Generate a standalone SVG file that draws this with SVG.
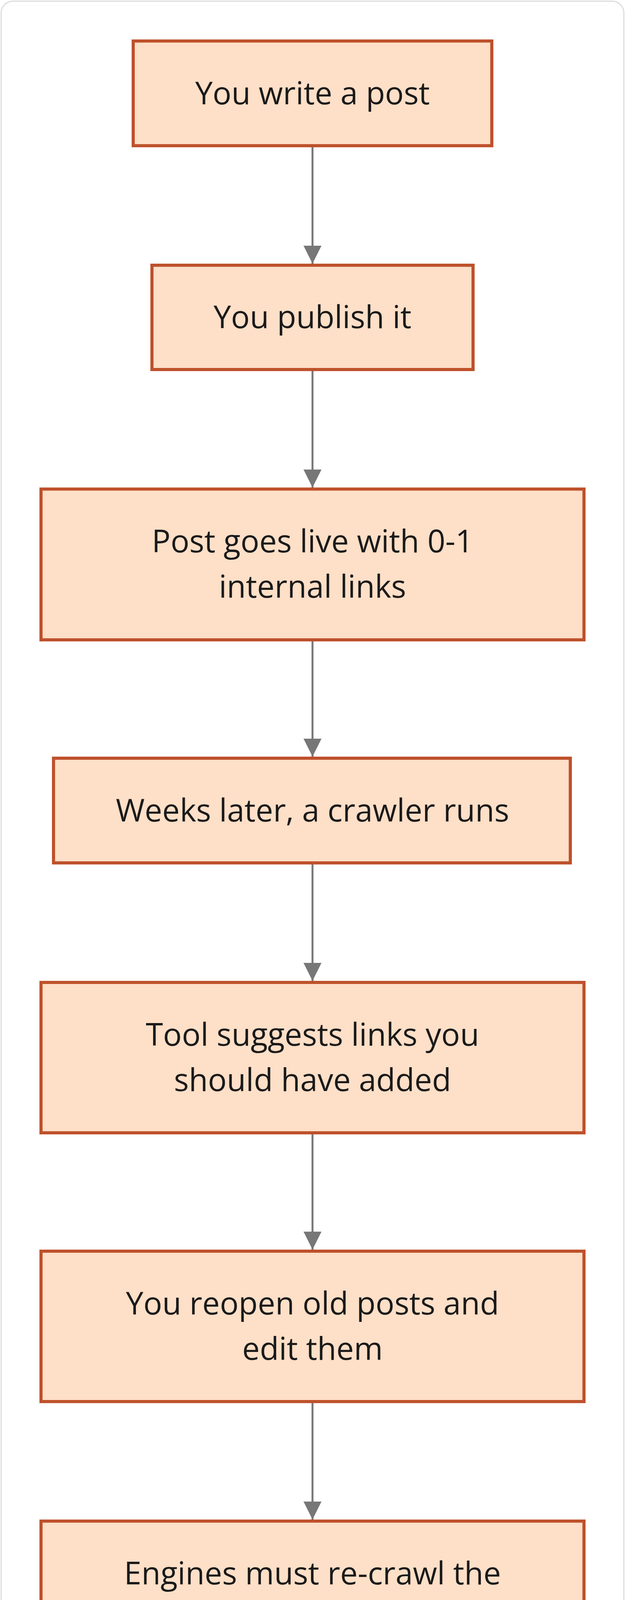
<svg xmlns="http://www.w3.org/2000/svg" width="1600" height="4996" viewBox="0 0 1600 4996">
<style>
.n rect{fill:#FEDFC7;stroke:#BE512C;stroke-width:8}
.n text{font-family:"Open Sans","Noto Sans",sans-serif;font-size:80px;fill:#1a1a1a;text-anchor:middle}
.c line{stroke:#777;stroke-width:5}
</style>
<defs><marker id="a" markerUnits="userSpaceOnUse" markerWidth="48" markerHeight="46" refX="46" refY="23" orient="auto" viewBox="0 0 48 46"><path d="M0,0 L46,23 L0,46 Z" fill="#777"/></marker></defs>
<rect x="3" y="3" width="1594" height="4990" rx="30" fill="#fff" stroke="#ddd" stroke-width="3"/>
<g class="c">
<line x1="800" y1="377" x2="800" y2="675" marker-end="url(#a)"/>
<line x1="800" y1="950" x2="800" y2="1248" marker-end="url(#a)"/>
<line x1="800" y1="1642" x2="800" y2="1937" marker-end="url(#a)"/>
<line x1="800" y1="2213" x2="800" y2="2511" marker-end="url(#a)"/>
<line x1="800" y1="2904" x2="800" y2="3199" marker-end="url(#a)"/>
<line x1="800" y1="3592" x2="800" y2="3890" marker-end="url(#a)"/>
<line x1="800" y1="4284" x2="800" y2="4581" marker-end="url(#a)"/>
</g>
<g id="n1" class="n"><rect x="341" y="105" width="918" height="268"/><text x="800" y="267">You write a post</text></g>
<g id="n2" class="n"><rect x="389" y="679" width="822" height="267"/><text x="800" y="840">You publish it</text></g>
<g id="n3" class="n"><rect x="105" y="1252" width="1390" height="386"/><text x="800" y="1414">Post goes live with 0-1</text><text x="800" y="1530">internal links</text></g>
<g id="n4" class="n"><rect x="137" y="1941" width="1323" height="268"/><text x="800" y="2103">Weeks later, a crawler runs</text></g>
<g id="n5" class="n"><rect x="105" y="2515" width="1390" height="385"/><text x="800" y="2677">Tool suggests links you</text><text x="800" y="2793">should have added</text></g>
<g id="n6" class="n"><rect x="105" y="3203" width="1390" height="385"/><text x="800" y="3365">You reopen old posts and</text><text x="800" y="3481">edit them</text></g>
<g id="n7" class="n"><rect x="105" y="3894" width="1390" height="386"/><text x="800" y="4056">Engines must re-crawl the</text><text x="800" y="4172">edits</text></g>
<g id="n8" class="n"><rect x="204" y="4585" width="1192" height="268"/><text x="800" y="4747">Link equity finally flows</text></g>
<rect x="1407" y="4916" width="160" height="50" rx="25" fill="#8c8c8c"/>
<text x="1487" y="4948" font-family="Open Sans,sans-serif" font-size="24" fill="#f2f2f2" text-anchor="middle">quillly.com</text>
</svg>
